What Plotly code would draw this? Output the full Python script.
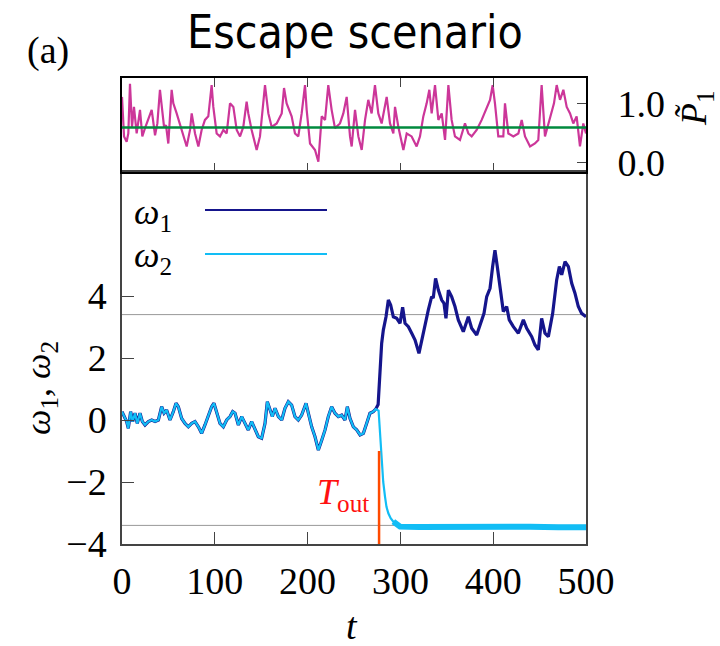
import plotly.graph_objects as go

W, H = 720, 646

# ---------------- data ----------------
p1_t = [0, 2.2, 5.0, 6.8, 8.6, 10.8, 12.9, 15.8, 19.4, 21.9, 24.8, 28.4, 32.0, 35.6, 38.1, 40.9, 42.7,
        45.3, 47.4, 49.9, 53.5, 55.3, 58.9, 62.5, 66.1, 69.7, 73.3, 75.1, 78.7, 82.3, 85.8, 89.4, 93.0,
        96.6, 98.4, 102.0, 105.6, 109.2, 112.8, 116.4, 120.0, 123.6, 127.2, 130.7, 134.3, 136.1, 139.7,
        145.1, 148.7, 151.6, 154.1, 157.7, 161.3, 166.7, 172.1, 174.6, 177.4, 182.8, 186.4, 190.0, 193.6,
        197.2, 199.0, 202.6, 208.0, 211.6, 215.2, 218.8, 222.3, 225.9, 229.5, 234.9, 238.5, 242.1, 245.7,
        247.5, 251.1, 254.7, 258.3, 261.9, 265.4, 269.0, 272.6, 276.2, 279.8, 285.2, 288.8, 292.4, 294.2,
        297.8, 303.2, 306.8, 312.1, 317.5, 321.1, 324.7, 328.3, 331.2, 333.7, 337.3, 340.9, 344.5, 348.1,
        351.7, 355.2, 358.8, 364.2, 369.6, 373.2, 376.8, 382.2, 387.6, 393.0, 396.6, 399.4, 401.9, 405.5,
        410.9, 412.7, 416.3, 421.7, 427.1, 430.7, 434.3, 439.7, 445.0, 448.6, 452.2, 455.8, 461.2, 465.5,
        468.4, 472.0, 475.6, 479.2, 482.8, 486.3, 489.9, 493.5, 497.1, 500]
p1_val = [1.12, 0.45, 0.36, 0.50, 1.34, 0.61, 0.95, 0.50, 0.90, 0.45, 0.59, 0.73, 0.90, 0.47, 0.67, 1.24, 1.01,
          0.61, 0.64, 0.33, 1.24, 1.01, 0.84, 0.64, 0.45, 0.28, 0.56, 0.84, 0.50, 0.28, 0.56, 0.73, 0.79,
          1.32, 0.95, 0.50, 0.45, 0.56, 0.50, 1.01, 0.95, 0.56, 0.45, 0.61, 1.04, 0.84, 0.56,
          0.22, 0.45, 0.95, 1.32, 0.84, 0.61, 0.67, 0.84, 1.27, 1.01, 0.79, 0.50, 0.45, 0.84,
          1.32, 0.90, 0.33, 0.22, 0.02, 0.79, 0.73, 1.32, 0.90, 0.59, 0.67, 0.84, 1.12, 0.45,
          0.28, 0.90, 0.45, 0.22, 0.73, 1.07, 0.84, 1.32, 0.84, 0.67, 1.12, 0.67, 0.50, 0.95,
          0.61, 0.22, 0.50, 0.45, 0.28, 0.45, 0.79, 1.01, 1.24, 0.84, 1.32, 0.73, 0.84, 0.39,
          1.32, 0.73, 0.45, 0.39, 0.67, 0.50, 0.45, 0.56, 0.73, 0.95, 1.07, 1.32, 1.01, 0.45,
          0.45, 1.01, 0.50, 0.45, 0.50, 0.73, 0.45, 0.28, 0.33, 0.39, 1.32, 0.45, 0.79, 1.01,
          1.32, 1.07, 1.24, 0.95, 0.84, 0.67, 0.79, 0.28, 0.67, 0.50]
p1_mean = 0.6

# both frequencies before the escape (they overlap)
pre_t = [0, 2.2, 5.0, 6.8, 9.3, 11.5, 14.0, 16.5, 19.4, 21.9, 24.8, 28.4, 32.0, 35.6, 39.2, 42.7, 45.3,
         48.1, 51.7, 55.3, 58.2, 60.7, 64.3, 67.9, 71.5, 75.1, 78.7, 82.3, 85.8, 89.4, 93.0, 96.6, 99.1,
         102.0, 105.6, 109.2, 112.8, 116.4, 119.3, 121.8, 125.4, 129.0, 132.5, 136.1, 139.7, 143.3, 146.9,
         150.5, 154.1, 156.6, 159.5, 162.0, 164.9, 168.5, 172.1, 175.6, 179.2, 182.8, 186.4, 190.0, 193.6,
         198.3, 200.8, 204.4, 208.0, 211.6, 215.2, 218.8, 222.3, 225.9, 229.5, 233.1, 236.7, 240.3, 242.8,
         245.7, 249.3, 252.9, 256.5, 260.1, 263.6, 267.2, 270.8, 273.4]
pre_val = [0.27, 0.11, -0.05, -0.27, 0.27, -0.05, 0.22, -0.11, 0.22, -0.05, -0.16, -0.05, 0.0, -0.05, 0.0, 0.43, 0.22,
           0.32, 0.0, 0.27, 0.54, 0.43, 0.05, -0.11, -0.22, -0.11, -0.05, -0.22, -0.43, -0.16, 0.11, 0.43, 0.54,
           0.27, -0.11, -0.22, 0.0, 0.11, 0.27, 0.22, -0.16, 0.11, -0.11, -0.32, -0.05, -0.32, -0.54,
           -0.59, -0.11, 0.59, 0.32, 0.11, 0.38, 0.11, 0.0, 0.38, 0.59, 0.48, 0.11, 0.0, 0.16,
           0.54, 0.22, -0.22, -0.54, -0.97, -0.65, -0.32, 0.11, 0.43, 0.22, 0.11, 0.16, 0.0, 0.43,
           0.05, -0.22, -0.32, -0.48, -0.43, -0.11, 0.22, 0.27, 0.35]

w1_post_t = [276.0, 277.5, 278.5, 279.8, 281.6, 284.5, 287.0, 289.5, 292.4, 296.0, 299.6, 302.4, 305.0, 308.6,
             312.2, 315.8, 320.0, 322.9, 326.5, 330.1, 333.7, 335.4, 337.9, 340.9, 344.5, 347.0, 349.1, 351.7,
             355.2, 358.8, 362.4, 367.8, 373.2, 376.8, 382.2, 386.5, 390.1, 393.0, 396.6, 399.4, 401.9, 404.4,
             407.3, 410.9, 414.5, 417.3, 421.7, 427.1, 432.5, 436.1, 441.5, 445.0, 448.6, 452.2, 455.8, 459.4,
             464.1, 468.4, 471.3, 473.8, 477.4, 481.0, 484.6, 488.1, 491.7, 495.3, 500]
w1_post_val = [0.5, 1.2, 2.0, 2.47, 2.90, 3.33, 3.87, 3.71, 3.33, 3.28, 3.12, 3.64, 3.12, 3.01,
               2.80, 2.58, 2.15, 2.58, 3.12, 3.55, 3.98, 3.93, 4.57, 4.19, 3.87, 3.76, 3.28, 4.19,
               3.98, 3.66, 3.23, 2.85, 3.33, 2.96, 2.74, 3.12, 3.44, 3.98, 4.25, 4.95, 5.48, 4.95,
               4.30, 3.50, 3.66, 3.23, 3.01, 2.80, 3.23, 2.96, 2.69, 2.42, 2.26, 3.28, 2.80, 2.69,
               3.44, 4.52, 4.95, 4.68, 5.11, 4.95, 4.41, 4.09, 3.66, 3.44, 3.33]

w2_post_t = [276.5, 277.7, 278.7, 279.8, 281.5, 283.4, 285.0, 287.0, 289.5, 292.4, 296.0, 299.6, 320, 350,
             380, 410, 440, 470, 500]
w2_post_val = [0.30, -0.30, -1.0, -1.40, -2.0, -2.47, -2.8, -3.01, -3.17, -3.28, -3.38, -3.44, -3.45, -3.44,
               -3.46, -3.45, -3.44, -3.46, -3.46]

fixed_points = [3.4, -3.4]
T_out = 277
T_out_span = [-4, -1.0]

w1_t = pre_t + w1_post_t
w1_val = pre_val + w1_post_val
w2_t = pre_t + w2_post_t
w2_val = pre_val + w2_post_val

# ---------------- colours ----------------
C_W1 = "#15158c"
C_W2 = "#12bdf5"
C_P1 = "#cc3699"
C_MEAN = "#008a3e"
C_TOUT = "#ff4a00"
SERIF = "Liberation Serif, Times New Roman, serif"
AX = "#444444"

fig = go.Figure()

# top panel
fig.add_trace(go.Scatter(x=p1_t, y=p1_val, mode="lines", line=dict(color=C_P1, width=2.2),
                         xaxis="x2", yaxis="y2", showlegend=False))
fig.add_trace(go.Scatter(x=[0, 500], y=[p1_mean, p1_mean], mode="lines",
                         line=dict(color=C_MEAN, width=2.5), xaxis="x2", yaxis="y2", showlegend=False))

# bottom panel
for fp in fixed_points:
    fig.add_trace(go.Scatter(x=[0, 500], y=[fp, fp], mode="lines", line=dict(color="#999999", width=1),
                             showlegend=False))
fig.add_trace(go.Scatter(x=w1_t, y=w1_val, mode="lines", line=dict(color=C_W1, width=3.2),
                         showlegend=False))
fig.add_trace(go.Scatter(x=w2_t, y=w2_val, mode="lines", line=dict(color=C_W2, width=2.2),
                         showlegend=False))
band_t = [t for t in w2_t if t >= 292]
band_v = [v for t, v in zip(w2_t, w2_val) if t >= 292]
fig.add_trace(go.Scatter(x=band_t, y=band_v, mode="lines", line=dict(color=C_W2, width=6),
                         showlegend=False))
fig.add_trace(go.Scatter(x=[T_out, T_out], y=T_out_span, mode="lines", line=dict(color=C_TOUT, width=2.5),
                         showlegend=False))

xb = [122 / W, 586 / W]
y_bot = [1 - 544 / H, 1 - 172 / H]
y_top = [1 - 172 / H, 1 - 78 / H]

fig.update_layout(
    template="none",
    width=W, height=H, margin=dict(l=0, r=0, t=0, b=0, autoexpand=False),
    paper_bgcolor="white", plot_bgcolor="white", showlegend=False,
    xaxis=dict(domain=xb, range=[0, 500], anchor="y", tickvals=[0, 100, 200, 300, 400, 500],
               ticks="inside", ticklen=12, tickcolor=AX, tickwidth=1.2, showline=True, linecolor=AX,
               linewidth=1.5, mirror=True, showgrid=False, zeroline=False, automargin=False,
               tickfont=dict(family=SERIF, size=38, color="black"), ticklabelstandoff=3),
    yaxis=dict(domain=y_bot, range=[-4, 8], anchor="x", tickvals=[-4, -2, 0, 2, 4],
               ticks="inside", ticklen=12, tickcolor=AX, tickwidth=1.2, showline=True, linecolor=AX,
               linewidth=1.5, mirror=True, showgrid=False, zeroline=False, automargin=False,
               tickfont=dict(family=SERIF, size=38, color="black"), ticklabelstandoff=6),
    xaxis2=dict(domain=xb, range=[0, 500], anchor="y2", tickvals=[0, 100, 200, 300, 400, 500],
                ticks="inside", ticklen=9, tickcolor=AX, showticklabels=False, showline=True,
                linecolor="black", linewidth=1.8, mirror="ticks", showgrid=False, zeroline=False,
                automargin=False),
    yaxis2=dict(domain=y_top, range=[-0.153, 1.44], anchor="x2", side="right", tickvals=[0, 1],
                ticktext=["0.0", "1.0"], ticks="inside", ticklen=9, tickcolor=AX, showline=True,
                linecolor="black", linewidth=1.8, mirror=True, showgrid=False, zeroline=False,
                automargin=False,
                tickfont=dict(family=SERIF, size=38, color="black"), ticklabelstandoff=22),
)


def note(text, px, py, size=36, color="black", family=SERIF, angle=0, xanchor="center"):
    return dict(text=text, x=px / W, y=1 - py / H, xref="paper", yref="paper", showarrow=False,
                xanchor=xanchor, yanchor="middle", textangle=angle,
                font=dict(family=family, size=size, color=color))


ann = [
    note("Escape scenario", 355, 32, size=46, family="DejaVu Sans Condensed, DejaVu Sans, sans-serif"),
    note("(a)", 48, 50, size=38),
    note("<i>t</i>", 352, 626, size=38),
    note("<i>ω</i><sub>1</sub>, <i>ω</i><sub>2</sub>", 40, 388, size=36, angle=-90),
    note("<i>P\u0303</i><sub>1</sub>", 697, 108, size=36, angle=-90),
    note("<i>ω</i><sub>1</sub>", 132, 214, size=36, xanchor="left"),
    note("<i>ω</i><sub>2</sub>", 132, 258, size=36, xanchor="left"),
    dict(text="<i>T</i><sub>out</sub>", x=T_out, y=-2.4, xref="x", yref="y", xanchor="right",
         yanchor="middle", xshift=-8, showarrow=False, font=dict(family=SERIF, size=36, color="#ff1010")),
]
fig.update_layout(annotations=ann)

fig.add_shape(type="line", xref="paper", yref="paper", x0=205 / W, x1=327 / W, y0=1 - 210 / H, y1=1 - 210 / H,
              line=dict(color=C_W1, width=2))
fig.add_shape(type="line", xref="paper", yref="paper", x0=205 / W, x1=327 / W, y0=1 - 254 / H, y1=1 - 254 / H,
              line=dict(color=C_W2, width=2))

fig.write_html("out.html")
